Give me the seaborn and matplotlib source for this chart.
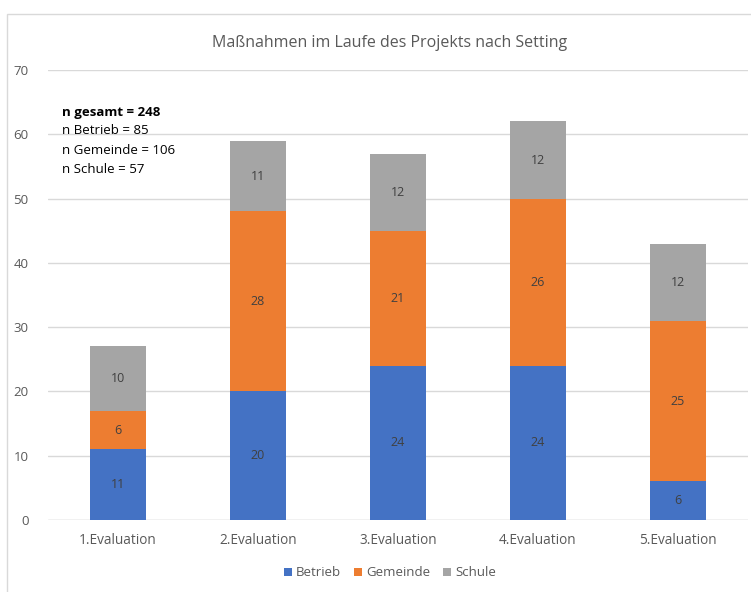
import matplotlib
matplotlib.use("Agg")
import matplotlib.pyplot as plt
import seaborn as sns
import numpy as np
from matplotlib.patches import Rectangle, Patch

categories = ["1.Evaluation", "2.Evaluation", "3.Evaluation", "4.Evaluation", "5.Evaluation"]
betrieb = [11, 20, 24, 24, 6]
gemeinde = [6, 28, 21, 26, 25]
schule = [10, 11, 12, 12, 12]
series_names = ["Betrieb", "Gemeinde", "Schule"]
series_colors = ["#4472C4", "#ED7D31", "#A5A5A5"]
notes = ["n gesamt = 248", "n Betrieb = 85", "n Gemeinde = 106", "n Schule = 57"]

sns.set_theme(style="white")
plt.rcParams["font.family"] = ["Open Sans", "DejaVu Sans"]
text_color = "#595959"

fig = plt.figure(figsize=(7.51, 5.92), dpi=100)
fig.patch.set_facecolor("white")
# outer chart frame
fig.patches.append(Rectangle((7 / 751, -0.01), 1.0, 1 - 14 / 592 + 0.01,
                             transform=fig.transFigure, fill=False,
                             edgecolor="#D9D9D9", linewidth=1.0))

ax = fig.add_axes([48 / 751, 1 - 520 / 592, 700 / 751, 450 / 592])

series = [betrieb, gemeinde, schule]
bottom = np.zeros(len(categories))
for vals, name, col in zip(series, series_names, series_colors):
    sns.barplot(x=categories, y=vals, bottom=bottom, color=col, width=0.4,
                ax=ax, saturation=1, linewidth=0)
    bottom = bottom + np.array(vals)

# segment value labels
bottom = np.zeros(len(categories))
for vals in series:
    for i, v in enumerate(vals):
        ax.text(i, bottom[i] + v / 2, str(v), ha="center", va="center",
                fontsize=9, color="#404040")
    bottom = bottom + np.array(vals)

ax.set_ylim(0, 70)
ax.set_xlim(-0.5, 4.5)
ax.set_yticks(range(0, 71, 10))
ax.yaxis.grid(True, color="#D9D9D9", linewidth=1)
ax.set_axisbelow(True)
for s in ax.spines.values():
    s.set_visible(False)
ax.axhline(0, color="#D9D9D9", linewidth=1, zorder=0)
ax.tick_params(axis="y", length=0, pad=14, labelsize=9.5, labelcolor=text_color)
ax.tick_params(axis="x", length=0, pad=9, labelsize=9.8, labelcolor=text_color)
ax.set_xlabel("")
ax.set_ylabel("")

fig.text(390 / 751, 1 - 43 / 592, "Maßnahmen im Laufe des Projekts nach Setting",
         ha="center", va="center", fontsize=11.5, color=text_color)

# sample size notes
for k, line in enumerate(notes):
    fig.text(62 / 751, 1 - (112 + 19 * k) / 592, line, ha="left", va="center",
             fontsize=9.5, color="black", fontweight="bold" if k == 0 else "normal")

handles = [Patch(facecolor=c, edgecolor="none") for c in series_colors]
fig.legend(handles, series_names, loc="center", bbox_to_anchor=(390 / 751, 1 - 573 / 592),
           ncol=3, frameon=False, fontsize=9.5, labelcolor=text_color,
           handlelength=0.6, handleheight=0.6, handletextpad=0.3, columnspacing=1.0)

fig.savefig("out.png", dpi=100)
